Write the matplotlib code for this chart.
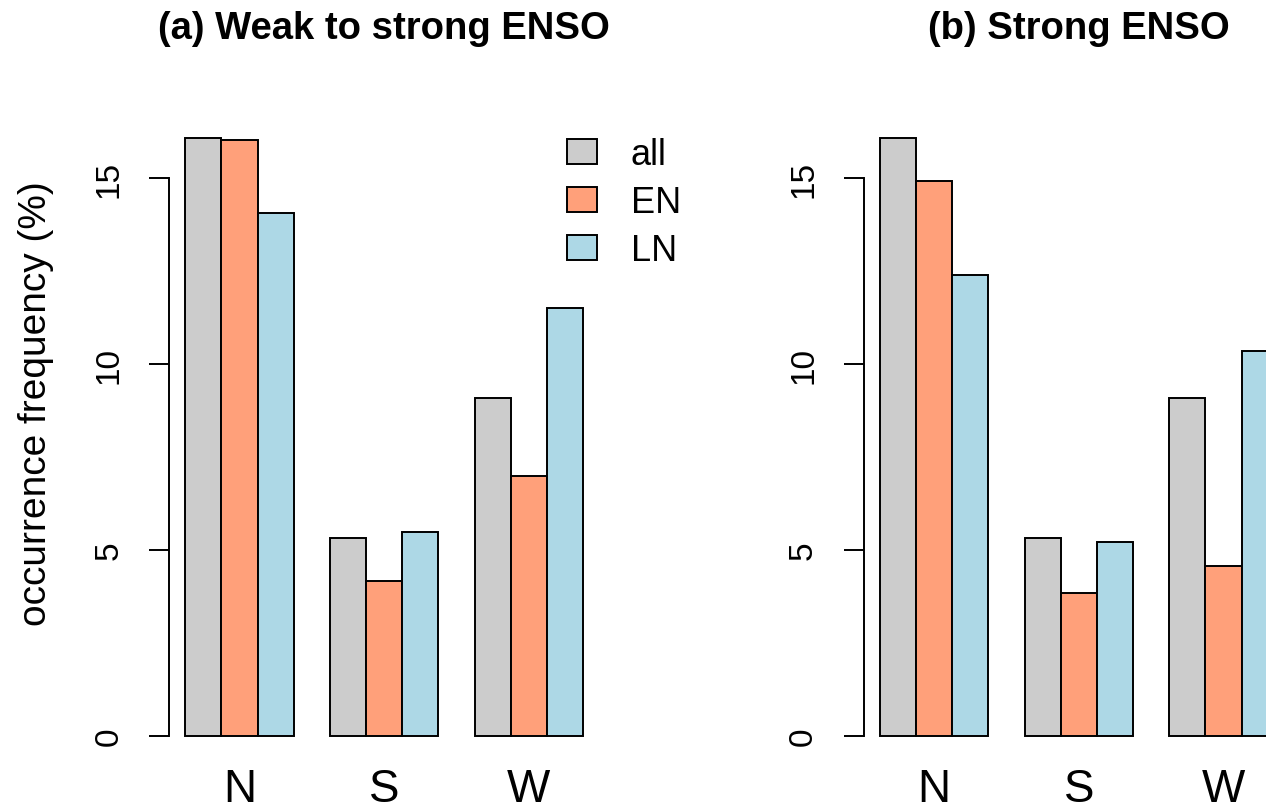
import numpy as np
import matplotlib.pyplot as plt
from matplotlib.patches import Patch

plt.rcParams['font.family'] = ['Liberation Sans', 'DejaVu Sans']

regions = ['N', 'S', 'W']
series = ['all', 'EN', 'LN']
colors = ['#CCCCCC', '#FFA07A', '#ADD8E6']

# occurrence frequency (%) per regime
freq_all = [16.10, 5.32, 9.09]
weak_en = [16.04, 4.16, 6.99]
weak_ln = [14.08, 5.50, 11.52]
strong_en = [14.92, 3.84, 4.58]
strong_ln = [12.40, 5.22, 10.36]

panels = [
    ('(a) Weak to strong ENSO', [freq_all, weak_en, weak_ln]),
    ('(b) Strong ENSO', [freq_all, strong_en, strong_ln]),
]

W, H = 1266, 812
fig = plt.figure(figsize=(W / 100, H / 100), dpi=100)

# R-style barplot(beside=TRUE): one bar-width gap before each group
n_ser = len(series)
group_left = 1 + np.arange(len(regions)) * (n_ser + 1)
centers = group_left + n_ser / 2

ax_left_px = [169.4, 864.0]
ax_w_px = 429.6
ax_bot_px, ax_top_px = 763.8, 41.2

axes = []
for (title, vals), lpx in zip(panels, ax_left_px):
    ax = fig.add_axes([lpx / W, 1 - ax_bot_px / H, ax_w_px / W, (ax_bot_px - ax_top_px) / H])
    for k, (v, c) in enumerate(zip(vals, colors)):
        ax.bar(group_left + k, v, width=1, align='edge', color=c,
               edgecolor='black', linewidth=1.4, label=series[k])
    ax.set_xlim(0.56, 12.44)
    ax.set_ylim(-0.72, 18.72)
    for s in ['top', 'right', 'bottom']:
        ax.spines[s].set_visible(False)
    ax.spines['left'].set_bounds(0, 15)
    ax.spines['left'].set_linewidth(1.4)
    ax.set_yticks([0, 5, 10, 15])
    ax.tick_params(axis='y', length=14.4, width=1.4, labelsize=24, pad=18,
                   labelrotation=90)
    for t in ax.get_yticklabels():
        t.set_va('center')
    ax.set_xticks(centers)
    ax.set_xticklabels(regions)
    ax.tick_params(axis='x', length=0, labelsize=33, pad=3)
    fig.text((lpx + ax_w_px / 2) / W, 1 - 39 / H, title, fontsize=27.5,
             fontweight='bold', ha='center', va='baseline')
    axes.append(ax)

fig.text(36 / W, 1 - 404 / H, 'occurrence frequency (%)', rotation=90,
         fontsize=28, ha='center', va='center')

handles = [Patch(facecolor=c, edgecolor='black', linewidth=1.4) for c in colors]
axes[0].legend(handles, series, loc='upper left',
               bbox_to_anchor=(566.7 / W, 1 - 138 / H), bbox_transform=fig.transFigure,
               frameon=False, fontsize=26, borderpad=0, borderaxespad=0,
               handlelength=0.83, handleheight=0.665, handletextpad=0.95,
               labelspacing=0.36)

fig.savefig('out.png', dpi=100)
